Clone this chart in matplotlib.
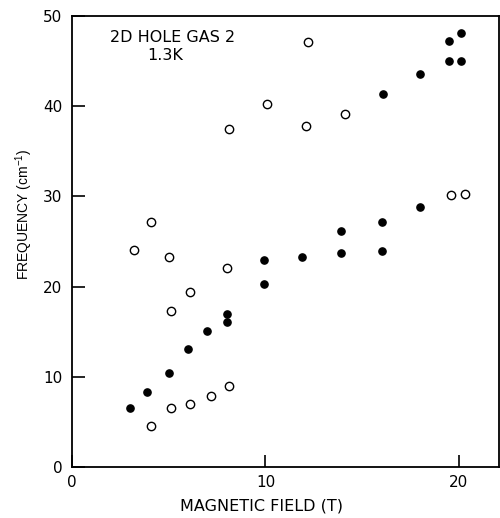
import matplotlib
matplotlib.use("Agg")
import matplotlib.pyplot as plt

# filled circles
filled_x = [3.0, 3.9, 5.0, 6.0, 7.0, 8.0, 8.0, 9.9, 9.9, 11.9, 13.9, 13.9,
            16.0, 16.0, 18.0, 16.1, 18.0, 19.5, 20.1, 19.5, 20.1]
filled_y = [6.5, 8.3, 10.4, 13.1, 15.1, 16.1, 17.0, 20.3, 23.0, 23.3, 23.7, 26.2,
            23.9, 27.2, 28.8, 41.3, 43.6, 45.0, 45.0, 47.2, 48.1]

# open circles
open_x = [4.1, 5.1, 6.1, 7.2, 8.1, 5.1, 6.1, 8.0, 5.0, 3.2, 4.1,
          8.1, 10.1, 12.1, 14.1, 12.2, 19.6, 20.3]
open_y = [4.6, 6.5, 7.0, 7.9, 9.0, 17.3, 19.4, 22.1, 23.3, 24.1, 27.2,
          37.5, 40.2, 37.8, 39.1, 47.1, 30.2, 30.3]

plt.rcParams['font.family'] = ['DejaVu Sans']
plt.rcParams['mathtext.default'] = 'regular'

W, H = 500, 518
fig = plt.figure(figsize=(W / 100, H / 100), dpi=100)
ax = fig.add_axes([72 / W, 1 - 467 / H, 427 / W, 451 / H])

ax.plot(filled_x, filled_y, 'o', color='black', markersize=5.2, linestyle='none')
ax.plot(open_x, open_y, 'o', markerfacecolor='white', markeredgecolor='black',
        markeredgewidth=1.0, markersize=6, linestyle='none')

ax.set_xlim(0, 22.07)
ax.set_ylim(0, 50)
ax.set_xticks([0, 10, 20])
ax.set_yticks([0, 10, 20, 30, 40, 50])
ax.tick_params(direction='in', length=9, width=1.2, labelsize=11)
ax.tick_params(axis='x', pad=6)
ax.tick_params(axis='y', pad=7)
for s in ax.spines.values():
    s.set_linewidth(1.3)

# axis labels placed in figure pixels
fig.text(261 / W, 1 - 506 / H, "MAGNETIC FIELD (T)", fontsize=11.5,
         ha='center', va='center')
fig.text(24 / W, 1 - 214 / H, "FREQUENCY (cm$^{-1}$)", fontsize=10,
         family='Liberation Sans', rotation=90, ha='center', va='center')

# annotation
fig.text(173 / W, 1 - 37 / H, "2D HOLE GAS 2", fontsize=11.5,
         ha='center', va='center')
fig.text(165 / W, 1 - 55 / H, "1.3K", fontsize=11.5, ha='center', va='center')

fig.savefig("out.png", dpi=100)
